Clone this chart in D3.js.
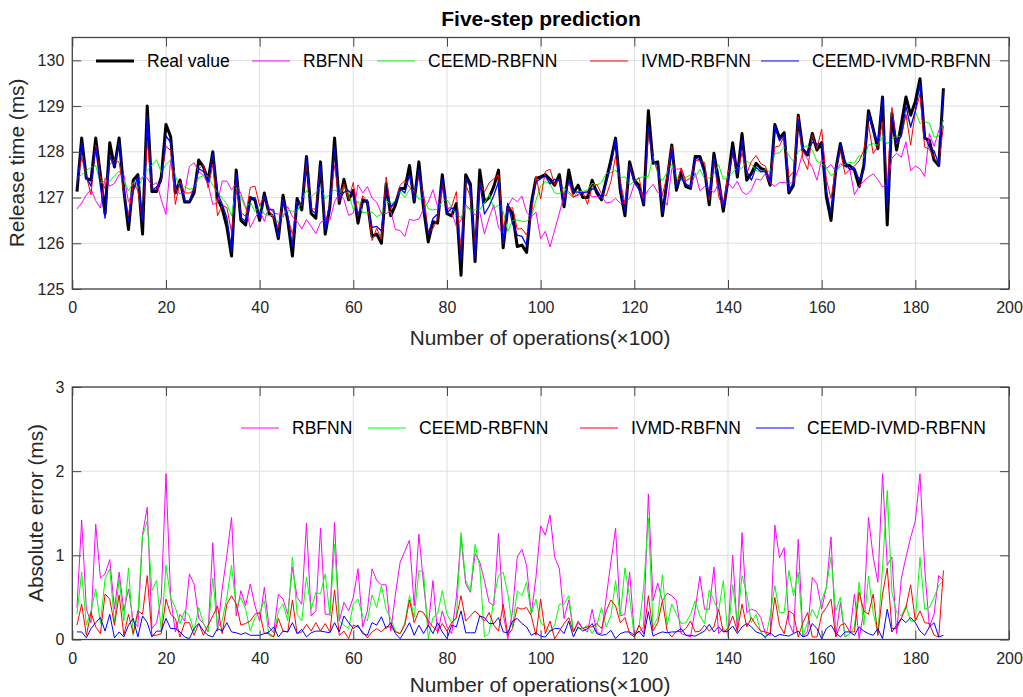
<!DOCTYPE html>
<html lang="en">
<head>
<meta charset="UTF-8">
<title>Five-step prediction</title>
<script src="https://d3js.org/d3.v7.min.js"></script>
<style>
  body { margin: 0; background: #fff; }
  svg { font-family: "Liberation Sans", Arial, sans-serif; }
  .tick text { font-size: 16px; fill: #262626; }
  .axis path { display: none; }
  .axis line { stroke: #444; stroke-width: 1; }
  .grid line { stroke: #dfdfdf; stroke-width: 1; }
  .label { font-size: 20.8px; fill: #262626; }
  .legend text { font-size: 17.5px; fill: #000; }
</style>
</head>
<body>
<script>
// release time (ms), one value per 100 operations, x = 1..186
var realValue = [127.13,128.3,127.42,127.38,128.3,127.5,126.65,128.2,127.67,128.3,
  127.16,126.3,127.38,127.5,126.2,129.0,127.13,127.13,127.45,128.6,
  128.33,127.1,127.38,126.9,126.9,127.1,127.82,127.67,127.38,128.0,
  126.98,126.76,126.36,125.72,127.6,126.5,126.4,127.0,126.95,126.5,
  127.1,126.65,126.58,126.1,127.05,126.5,125.72,126.98,126.73,127.9,
  126.65,126.55,127.78,126.2,126.8,128.3,126.87,127.4,126.95,127.16,
  126.44,126.95,126.9,126.15,126.2,126.0,127.3,126.6,126.84,127.2,
  127.2,127.7,126.9,127.78,126.76,126.03,126.47,126.44,127.5,126.65,
  126.6,126.87,125.3,127.5,127.3,125.6,127.6,126.9,127.0,127.24,
  127.6,125.9,126.8,126.65,125.93,125.96,125.8,126.87,127.42,127.45,
  127.5,127.4,127.27,127.5,126.8,127.6,127.1,127.27,127.0,127.0,
  127.38,127.1,126.95,127.38,127.82,128.3,127.16,126.6,127.78,127.38,
  127.27,126.84,128.9,127.75,127.78,126.6,127.38,128.15,127.16,127.56,
  127.24,127.2,127.9,127.9,127.6,126.84,127.97,127.38,126.7,127.4,
  128.2,127.45,128.4,127.38,127.53,127.75,127.64,127.6,127.27,128.6,
  128.3,128.42,127.1,127.27,128.8,128.04,127.93,128.4,128.04,128.2,
  127.02,126.5,127.6,128.18,127.7,127.7,127.6,127.24,127.7,128.9,
  128.5,128.07,129.2,126.4,128.84,128.04,128.6,129.2,128.8,129.1,
  129.6,128.3,128.25,127.82,127.7,129.39];

var predRbf = [126.75,126.88,127.06,127.18,126.93,126.77,127.43,127.25,127.31,127.5,
  127.5,126.9,127.16,127.35,127.45,127.43,127.26,127.33,126.95,126.63,
  127.83,127.19,127.08,127.12,127.68,127.76,127.57,127.48,127.29,126.85,
  126.88,127.36,127.36,127.17,127.32,127.08,126.8,126.34,126.55,126.72,
  126.48,126.8,126.66,126.64,126.57,126.8,126.58,126.48,126.31,126.52,
  126.37,126.21,126.46,126.5,126.5,126.91,127.09,126.96,126.61,126.66,
  127.28,127.1,127.24,126.99,126.9,126.65,126.65,126.7,126.3,126.28,
  126.15,126.52,126.5,126.53,126.75,126.9,127.17,126.8,127.16,126.8,
  126.67,126.37,126.51,126.84,126.74,126.62,126.68,126.2,126.56,126.84,
  126.34,126.2,126.81,126.99,126.91,127.03,126.68,126.57,126.68,126.1,
  126.26,125.92,126.29,126.66,127.05,127.13,127.01,127.05,127.13,127.09,
  127.02,127.02,127.02,126.88,126.9,126.98,126.88,126.9,126.98,127.31,
  127.18,126.99,127.17,127.29,127.11,127.06,126.83,127.63,127.62,127.63,
  127.29,127.23,127.54,127.15,127.24,127.2,127.11,127.31,126.83,127.33,
  127.2,127.36,127.13,127.06,127.17,127.41,127.38,127.53,127.32,127.24,
  127.33,127.33,127.3,127.34,127.61,128.01,127.83,127.66,127.38,127.84,
  127.64,127.72,127.57,127.74,127.67,127.63,127.06,127.25,127.36,127.45,
  127.52,127.39,127.23,127.28,127.86,127.97,127.88,128.22,127.59,127.69,
  127.63,127.46,128.4,128.12,128.46,128.69];

var predCeemd = [127.43,127.5,127.59,127.66,127.7,127.31,127.37,127.36,127.47,127.58,
  127.38,127.15,127.33,127.2,127.43,127.59,127.71,127.83,127.55,127.72,
  127.83,127.48,127.19,127.24,127.18,127.2,127.44,127.48,127.47,127.27,
  127.11,126.98,126.86,126.6,127.22,127.0,126.76,126.9,126.69,126.82,
  126.64,126.6,126.61,126.44,126.63,126.72,126.7,126.68,126.95,127.16,
  127.01,127.11,127.24,126.98,127.08,127.17,127.09,127.23,127.08,126.74,
  126.92,126.67,126.68,126.68,126.58,126.64,126.94,126.85,126.94,127.13,
  127.0,127.18,127.16,126.96,127.0,126.76,126.73,126.74,126.92,126.95,
  126.8,126.62,126.57,126.8,126.72,126.73,126.74,126.87,127.07,126.76,
  126.84,126.7,126.26,126.5,126.51,126.48,126.48,126.57,126.94,127.25,
  127.35,127.3,127.1,127.08,127.22,127.08,127.0,127.14,127.13,127.17,
  127.31,127.27,127.33,127.53,127.54,127.6,127.44,127.45,127.28,127.35,
  127.42,127.46,127.46,127.9,127.52,127.37,127.55,127.73,127.46,127.37,
  127.44,127.5,127.44,127.62,127.41,127.43,127.51,127.72,127.4,127.43,
  127.55,127.65,127.64,127.8,127.73,127.6,127.55,127.61,127.55,127.96,
  127.98,128.1,127.92,127.79,128.0,128.09,128.13,128.04,127.79,127.74,
  127.64,127.48,127.55,127.68,127.73,127.77,127.75,127.92,127.87,128.15,
  128.18,128.14,128.34,128.17,128.28,128.36,128.32,128.8,128.58,128.88,
  128.62,128.66,128.63,128.32,128.34,128.69];

var predIvmd = [127.3,127.88,127.47,127.06,128.15,127.43,127.19,127.72,127.84,127.77,
  127.11,126.6,127.31,127.16,126.5,128.24,127.18,127.18,127.38,128.12,
  128.03,126.85,127.35,127.1,127.1,127.15,127.63,127.72,127.21,127.72,
  126.6,126.83,126.78,126.24,127.18,126.67,126.59,127.22,127.25,126.82,
  127.03,126.72,126.55,126.35,126.95,126.59,126.19,126.91,126.82,127.72,
  126.75,126.75,127.68,126.39,126.89,127.71,126.92,127.3,126.96,127.33,
  126.59,127.04,126.92,126.06,126.33,126.09,127.45,126.75,126.93,127.27,
  127.37,127.23,127.1,127.44,127.08,126.25,126.32,126.54,127.31,126.75,
  126.8,127.13,125.82,127.28,127.02,125.94,127.32,127.12,127.32,127.41,
  127.5,126.32,126.75,126.78,126.31,126.32,126.18,126.59,127.47,126.97,
  127.57,127.62,127.28,127.4,126.99,127.34,127.01,127.07,127.13,126.85,
  127.23,127.29,127.08,127.04,127.35,127.9,127.36,126.86,127.71,127.35,
  127.44,126.91,128.38,127.85,127.58,127.06,127.48,128.12,127.26,127.65,
  127.37,127.42,127.81,127.8,127.77,126.94,127.82,127.02,126.79,127.53,
  127.92,127.55,127.98,127.53,127.79,127.92,127.74,127.69,127.34,128.1,
  128.13,128.35,127.44,127.57,128.77,127.84,127.61,128.37,128.07,128.5,
  127.4,126.98,127.63,128.01,127.51,127.61,127.69,127.8,128.04,128.6,
  127.96,128.12,128.66,127.25,128.97,128.17,128.35,128.82,128.15,128.88,
  129.26,128.1,128.06,127.87,127.73,128.57];

var predCeemdIvmd = [127.22,128.21,127.44,127.25,128.1,127.24,126.55,127.9,127.69,128.21,
  127.19,126.47,127.13,127.47,126.48,128.8,127.16,127.23,127.35,128.35,
  128.2,127.23,127.29,126.93,126.91,127.23,127.63,127.57,127.33,127.97,
  127.11,126.86,126.56,125.81,127.52,126.56,126.48,126.95,127.0,126.55,
  127.03,126.74,126.73,126.13,126.95,126.59,125.92,126.91,126.85,127.87,
  126.73,126.65,127.68,126.29,126.88,128.1,126.96,127.12,127.15,127.03,
  126.61,126.88,126.95,126.35,126.37,126.27,127.17,126.8,126.91,127.19,
  127.1,127.5,126.95,127.61,126.83,126.2,126.54,126.64,127.41,126.66,
  126.77,126.72,125.64,127.42,127.22,125.68,127.32,126.64,126.81,127.05,
  127.34,125.99,126.88,126.43,126.18,126.15,125.95,126.82,127.34,127.41,
  127.47,127.3,127.4,127.37,126.87,127.38,127.13,127.12,127.1,127.13,
  127.19,127.17,127.0,127.32,127.71,128.29,127.23,126.69,127.69,127.33,
  127.17,126.87,128.57,127.79,127.71,126.69,127.3,128.06,127.25,127.43,
  127.29,127.25,127.86,127.83,127.5,127.02,127.88,127.23,126.79,127.3,
  128.04,127.52,128.25,127.57,127.38,127.66,127.57,127.57,127.35,128.57,
  128.24,128.37,127.14,127.34,128.7,128.07,127.98,128.21,128.17,128.19,
  127.15,126.67,127.52,128.15,127.79,127.61,127.65,127.39,127.6,128.83,
  128.45,128.2,129.19,126.76,128.75,128.21,128.35,129.0,128.54,128.9,
  129.5,128.35,128.1,128.02,127.73,129.34];

// absolute error (ms)
var errRbf = [0.38,1.42,0.36,0.2,1.37,0.73,0.78,0.95,0.36,0.8,
  0.34,0.6,0.22,0.15,1.25,1.57,0.13,0.2,0.5,1.97,
  0.5,0.09,0.3,0.22,0.78,0.66,0.25,0.19,0.09,1.15,
  0.1,0.6,1.0,1.45,0.28,0.58,0.4,0.66,0.4,0.22,
  0.62,0.15,0.08,0.54,0.48,0.3,0.86,0.5,0.42,1.38,
  0.28,0.34,1.32,0.3,0.3,1.39,0.22,0.44,0.34,0.5,
  0.84,0.15,0.34,0.84,0.7,0.65,0.65,0.1,0.54,0.92,
  1.05,1.18,0.4,1.25,0.66,0.15,0.7,0.07,0.34,0.15,
  0.07,0.5,1.21,0.66,0.56,1.02,0.92,0.7,0.44,0.4,
  1.26,0.3,0.01,0.34,0.98,1.07,0.88,0.3,0.74,1.35,
  1.24,1.48,0.98,0.84,0.25,0.47,0.09,0.22,0.13,0.09,
  0.36,0.08,0.07,0.5,0.92,1.32,0.28,0.3,0.8,0.07,
  0.09,0.15,1.73,0.46,0.67,0.46,0.55,0.52,0.46,0.07,
  0.05,0.03,0.36,0.75,0.36,0.36,0.86,0.07,0.13,0.07,
  1.0,0.09,1.27,0.32,0.36,0.34,0.26,0.07,0.05,1.36,
  0.97,1.09,0.2,0.07,1.19,0.03,0.1,0.74,0.66,0.36,
  0.62,1.22,0.03,0.44,0.03,0.07,0.54,0.01,0.34,1.45,
  0.98,0.68,1.97,0.88,0.98,0.07,0.72,0.98,1.21,1.41,
  1.97,0.84,0.15,0.3,0.76,0.7];

var errCeemd = [0.3,0.8,0.17,0.34,0.6,0.19,0.72,0.84,0.2,0.72,
  0.22,0.85,0.05,0.3,1.23,1.41,0.58,0.7,0.1,0.88,
  0.5,0.38,0.19,0.34,0.28,0.1,0.38,0.19,0.09,0.73,
  0.13,0.22,0.5,0.88,0.38,0.5,0.36,0.1,0.26,0.32,
  0.46,0.05,0.03,0.34,0.42,0.22,0.98,0.3,0.22,0.74,
  0.36,0.56,0.54,0.78,0.28,1.13,0.22,0.17,0.13,0.42,
  0.48,0.28,0.22,0.53,0.38,0.64,0.36,0.25,0.1,0.07,
  0.2,0.52,0.26,0.82,0.8,0.01,0.26,0.3,0.58,0.3,
  0.2,0.25,1.27,0.7,0.58,1.13,0.86,0.03,0.07,0.48,
  0.76,0.8,0.54,0.15,0.58,0.52,0.68,0.3,0.48,0.2,
  0.15,0.1,0.17,0.42,0.42,0.52,0.1,0.13,0.13,0.17,
  0.07,0.17,0.38,0.15,0.28,0.7,0.28,0.85,0.5,0.03,
  0.15,0.62,1.44,0.15,0.26,0.77,0.17,0.42,0.3,0.19,
  0.2,0.3,0.46,0.28,0.19,0.59,0.46,0.34,0.7,0.03,
  0.65,0.2,0.76,0.54,0.2,0.3,0.09,0.01,0.28,0.64,
  0.32,0.32,0.82,0.52,0.8,0.05,0.2,0.36,0.25,0.46,
  0.62,0.98,0.34,0.5,0.03,0.07,0.15,0.68,0.17,0.75,
  0.32,0.07,0.86,1.77,0.56,0.32,0.28,0.4,0.22,0.22,
  0.98,0.36,0.38,0.5,0.64,0.7];

var errIvmd = [0.17,0.42,0.05,0.32,0.15,0.07,0.54,0.48,0.17,0.53,
  0.05,0.3,0.07,0.34,0.3,0.76,0.05,0.05,0.07,0.48,
  0.3,0.25,0.03,0.2,0.2,0.05,0.19,0.05,0.17,0.28,
  0.4,0.07,0.42,0.52,0.42,0.17,0.19,0.22,0.3,0.32,
  0.07,0.07,0.03,0.25,0.1,0.09,0.47,0.07,0.09,0.18,
  0.1,0.2,0.1,0.19,0.09,0.59,0.05,0.1,0.01,0.17,
  0.15,0.09,0.02,0.09,0.13,0.09,0.15,0.15,0.09,0.07,
  0.17,0.47,0.2,0.34,0.32,0.22,0.15,0.1,0.19,0.1,
  0.2,0.26,0.52,0.22,0.28,0.34,0.28,0.22,0.32,0.17,
  0.1,0.42,0.05,0.13,0.38,0.36,0.38,0.28,0.05,0.48,
  0.07,0.22,0.01,0.1,0.19,0.26,0.09,0.2,0.13,0.15,
  0.15,0.19,0.13,0.34,0.47,0.4,0.2,0.26,0.07,0.03,
  0.17,0.07,0.52,0.1,0.2,0.46,0.1,0.03,0.1,0.09,
  0.13,0.22,0.09,0.1,0.17,0.1,0.15,0.36,0.09,0.13,
  0.28,0.1,0.42,0.15,0.26,0.17,0.1,0.09,0.07,0.5,
  0.17,0.07,0.34,0.3,0.03,0.2,0.32,0.03,0.03,0.3,
  0.38,0.48,0.03,0.17,0.19,0.09,0.09,0.56,0.34,0.3,
  0.54,0.05,0.54,0.85,0.13,0.13,0.25,0.38,0.65,0.22,
  0.34,0.2,0.19,0.05,0.03,0.82];

var errCeemdIvmd = [0.09,0.09,0.02,0.13,0.2,0.26,0.1,0.3,0.02,0.09,
  0.03,0.17,0.25,0.03,0.28,0.2,0.03,0.1,0.1,0.25,
  0.13,0.13,0.09,0.03,0.01,0.13,0.19,0.1,0.05,0.03,
  0.13,0.1,0.2,0.09,0.08,0.06,0.08,0.05,0.05,0.05,
  0.07,0.09,0.15,0.03,0.1,0.09,0.2,0.07,0.12,0.03,
  0.08,0.1,0.1,0.09,0.08,0.2,0.09,0.28,0.2,0.13,
  0.17,0.07,0.05,0.2,0.17,0.27,0.13,0.2,0.07,0.01,
  0.1,0.2,0.05,0.17,0.07,0.17,0.07,0.2,0.09,0.01,
  0.17,0.15,0.34,0.08,0.08,0.08,0.28,0.26,0.19,0.19,
  0.26,0.09,0.08,0.22,0.25,0.19,0.15,0.05,0.08,0.04,
  0.03,0.1,0.13,0.13,0.07,0.22,0.03,0.15,0.1,0.13,
  0.19,0.07,0.05,0.06,0.11,0.01,0.07,0.09,0.09,0.05,
  0.1,0.03,0.33,0.04,0.07,0.09,0.08,0.09,0.09,0.13,
  0.05,0.05,0.04,0.07,0.1,0.18,0.09,0.15,0.09,0.1,
  0.16,0.07,0.15,0.19,0.15,0.09,0.07,0.03,0.08,0.03,
  0.06,0.05,0.04,0.07,0.1,0.03,0.05,0.19,0.13,0.01,
  0.13,0.17,0.08,0.03,0.09,0.09,0.05,0.15,0.1,0.07,
  0.05,0.13,0.01,0.36,0.09,0.17,0.25,0.2,0.26,0.2,
  0.1,0.05,0.15,0.2,0.03,0.05];

var xTicks = [0, 20, 40, 60, 80, 100, 120, 140, 160, 180, 200];
var yTicksTop = [125, 126, 127, 128, 129, 130];
var yTicksBottom = [0, 1, 2, 3];

var names = ['Real value', 'RBFNN', 'CEEMD-RBFNN', 'IVMD-RBFNN', 'CEEMD-IVMD-RBFNN'];
var colors = ['#000000', '#ff00ff', '#00ff00', '#ff0000', '#0000ff'];

var W = 1023, H = 697;
var left = 72.3, right = 1009;

var svg = d3.select('body').append('svg')
  .attr('width', W)
  .attr('height', H);

var x = d3.scaleLinear().domain([0, 200]).range([left, right]);

function panel(y0, y1, yDomain, yTicks) {
  var y = d3.scaleLinear().domain(yDomain).range([y1, y0]);
  var g = svg.append('g');

  // grid
  var grid = g.append('g').attr('class', 'grid');
  grid.selectAll('.gx').data(xTicks).enter().append('line')
    .attr('x1', function(d){ return x(d); }).attr('x2', function(d){ return x(d); })
    .attr('y1', y0).attr('y2', y1);
  grid.selectAll('.gy').data(yTicks).enter().append('line')
    .attr('x1', left).attr('x2', right)
    .attr('y1', function(d){ return y(d); }).attr('y2', function(d){ return y(d); });

  return {y: y, g: g, y0: y0, y1: y1, yTicks: yTicks};
}

function frame(p) {
  var g = svg.append('g');
  g.append('g').attr('class', 'axis')
    .attr('transform', 'translate(0,' + p.y1 + ')')
    .call(d3.axisBottom(x).tickValues(xTicks).tickSizeInner(-9).tickSizeOuter(0).tickPadding(13));
  g.append('g').attr('class', 'axis')
    .attr('transform', 'translate(0,' + p.y0 + ')')
    .call(d3.axisTop(x).tickValues(xTicks).tickSizeInner(-9).tickSizeOuter(0).tickFormat(''));
  g.append('g').attr('class', 'axis')
    .attr('transform', 'translate(' + left + ',0)')
    .call(d3.axisLeft(p.y).tickValues(p.yTicks).tickFormat(d3.format('d'))
      .tickSizeInner(-9).tickSizeOuter(0).tickPadding(8));
  g.append('g').attr('class', 'axis')
    .attr('transform', 'translate(' + right + ',0)')
    .call(d3.axisRight(p.y).tickValues(p.yTicks).tickSizeInner(-9).tickSizeOuter(0).tickFormat(''));
  g.append('rect')
    .attr('x', left).attr('y', p.y0)
    .attr('width', right - left).attr('height', p.y1 - p.y0)
    .attr('fill', 'none').attr('stroke', '#444').attr('stroke-width', 1.3);
}

function legend(items, yPos, xs) {
  var lg = svg.append('g').attr('class', 'legend');
  items.forEach(function(it, i){
    lg.append('line')
      .attr('x1', xs[i] - 51).attr('x2', xs[i] - 13)
      .attr('y1', yPos).attr('y2', yPos)
      .attr('stroke', it.color).attr('stroke-width', it.width);
    lg.append('text')
      .attr('x', xs[i]).attr('y', yPos + 6)
      .text(it.name);
  });
}

function linePath(p, values) {
  return d3.line()
    .x(function(d, i){ return x(i + 1); })
    .y(function(d){ return p.y(d); })(values);
}

// ---------- upper panel: five-step prediction ----------
var upper = panel(37.5, 289, [125, 130.5], yTicksTop);
var topSeries = [realValue, predRbf, predCeemd, predIvmd, predCeemdIvmd];
var topWidths = [3, 1, 1, 1, 1.3];
topSeries.forEach(function(s, k){
  upper.g.append('path')
    .attr('d', linePath(upper, s))
    .attr('fill', 'none')
    .attr('stroke', colors[k])
    .attr('stroke-width', topWidths[k])
    .attr('stroke-linejoin', 'round');
});
frame(upper);

legend(names.map(function(n, k){ return {name: n, color: colors[k], width: k === 0 ? 3 : 1.2}; }),
  61, [147, 303, 428, 641, 812]);

svg.append('text')
  .attr('x', 541).attr('y', 26)
  .attr('text-anchor', 'middle')
  .style('font-size', '21px').style('font-weight', 'bold').attr('fill', '#000')
  .text('Five-step prediction');

svg.append('text').attr('class', 'label')
  .attr('x', 540).attr('y', 345)
  .attr('text-anchor', 'middle')
  .text('Number of operations(\u00d7100)');

svg.append('text').attr('class', 'label')
  .attr('transform', 'translate(24,163) rotate(-90)')
  .attr('text-anchor', 'middle')
  .text('Release time (ms)');

// ---------- lower panel: absolute error ----------
var lower = panel(387, 639.5, [0, 3], yTicksBottom);
var errSeries = [errRbf, errCeemd, errIvmd, errCeemdIvmd];
errSeries.forEach(function(s, k){
  lower.g.append('path')
    .attr('d', linePath(lower, s))
    .attr('fill', 'none')
    .attr('stroke', colors[k + 1])
    .attr('stroke-width', 1)
    .attr('stroke-linejoin', 'round');
});
frame(lower);

legend(names.slice(1).map(function(n, k){ return {name: n, color: colors[k + 1], width: 1.2}; }),
  428, [292, 419, 631, 807]);

svg.append('text').attr('class', 'label')
  .attr('x', 540).attr('y', 692)
  .attr('text-anchor', 'middle')
  .text('Number of operations(\u00d7100)');

svg.append('text').attr('class', 'label')
  .attr('transform', 'translate(43,513) rotate(-90)')
  .attr('text-anchor', 'middle')
  .text('Absolute error (ms)');
</script>
</body>
</html>
